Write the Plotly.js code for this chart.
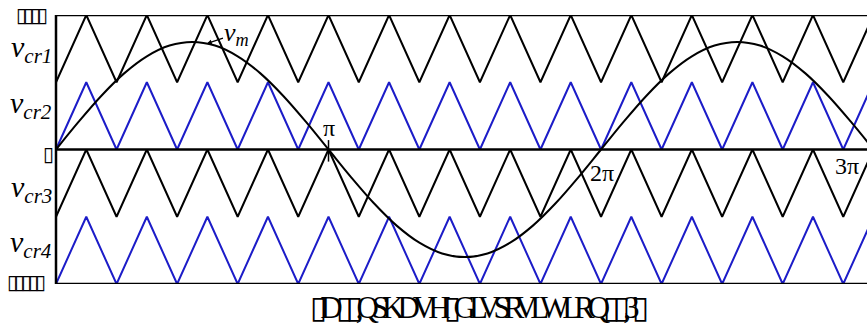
<!DOCTYPE html>
<html>
<head>
<meta charset="utf-8">
<script src="https://cdn.plot.ly/plotly-3.0.1.min.js"></script>
<style>
html,body{margin:0;padding:0;background:#fff;}
#chart{width:867px;height:326px;}
.gtitle{letter-spacing:-7px;}
g.annotation[data-index="4"] text, g.annotation[data-index="5"] text, g.annotation[data-index="6"] text{letter-spacing:-4px;}
</style>
</head>
<body>
<div id="chart"></div>
<script>
// Carrier vertex times, in units of pi/9 (mf = 9, in-phase disposition)
var carrierVertexTimes = [0,1,2,3,4,5,6,7,8,9,10,11,12,13,14,15,16,17,18,19,20,21,22,23,24,25,26,27];
var carrierNames = ["vcr1","vcr2","vcr3","vcr4"];
var carrierLow  = [0.5, 0, -0.5, -1];
var carrierHigh = [1, 0.5, 0, -0.5];
var carrierColors = ["#000000","#1c1cc8","#000000","#1c1cc8"];
var carrierLabels = ["<i>v</i><sub><i>cr1</i></sub>","<i>v</i><sub><i>cr2</i></sub>","<i>v</i><sub><i>cr3</i></sub>","<i>v</i><sub><i>cr4</i></sub>"];
var carrierLabelY = [0.75, 0.33, -0.29, -0.7];

// Modulating wave samples every pi/12 (times in units of pi/12)
var modTimes = [0,1,2,3,4,5,6,7,8,9,10,11,12,13,14,15,16,17,18,19,20,21,22,23,24,25,26,27,28,29,30,31,32,33,34,35,36];
var modValues = [0,0.207,0.4,0.566,0.693,0.773,0.8,0.773,0.693,0.566,0.4,0.207,0,
  -0.207,-0.4,-0.566,-0.693,-0.773,-0.8,-0.773,-0.693,-0.566,-0.4,-0.207,0,
  0.207,0.4,0.566,0.693,0.773,0.8,0.773,0.693,0.566,0.4,0.207,0];

// Angle marks (units of pi)
var piMarks = [1, 2, 3];
var piLabels = ["&#960;", "2&#960;", "3&#960;"];
var xMax = 2.976;

// Garbled tick labels as they appear
var tickLabelText = ["▯▯▯▯", "▯", "▯▯▯▯▯"];
var tickLabelY = [1, 0, -1];
var titleText = "▯D▯▯,QSKDVH▯GLVSRVLWLRQ▯▯,3' ▯";

var traces = [];
for (var c = 0; c < carrierNames.length; c++) {
  var xs = [], ys = [];
  for (var k = 0; k < carrierVertexTimes.length; k++) {
    xs.push(carrierVertexTimes[k] / 9);
    ys.push(k % 2 === 0 ? carrierLow[c] : carrierHigh[c]);
  }
  traces.push({x: xs, y: ys, type: "scatter", mode: "lines", name: carrierNames[c],
    line: {color: carrierColors[c], width: 2}, hoverinfo: "skip"});
}
traces.push({x: modTimes.map(function(t){return t/12;}), y: modValues, type: "scatter", mode: "lines",
  name: "vm", line: {color: "#000", width: 2, shape: "spline"}, hoverinfo: "skip"});

var serif = "Times New Roman, Liberation Serif, Times, serif";
var annotations = [];
for (var c = 0; c < carrierLabels.length; c++) {
  annotations.push({xref: "paper", yref: "y", x: 0, y: carrierLabelY[c], xanchor: "right", yanchor: "middle",
    xshift: -2, text: carrierLabels[c], showarrow: false, font: {family: serif, size: 30, color: "#000"}});
}
for (var t = 0; t < tickLabelText.length; t++) {
  annotations.push({xref: "paper", yref: "y", x: 0, y: tickLabelY[t], xanchor: "right", yanchor: "middle",
    xshift: -2, yshift: t === 1 ? -4 : (t === 2 ? 2 : 0), text: tickLabelText[t], showarrow: false,
    font: {family: "DejaVu Sans", size: 20, color: "#000"}});
}
var piShiftX = [0, 1, -27];
var piShiftY = [22, -23, -16];
for (var p = 0; p < piMarks.length; p++) {
  annotations.push({xref: "paper", yref: "y", x: piMarks[p] / xMax, y: 0, xanchor: "center", yanchor: "middle",
    xshift: piShiftX[p], yshift: piShiftY[p], text: piLabels[p], showarrow: false,
    font: {family: serif, size: 24, color: "#000"}});
}
// v_m label with arrow to the modulating wave
annotations.push({xref: "x", yref: "y", x: 0.554, y: 0.788, ax: 30, ay: -10, text: "<i>v</i><sub><i>m</i></sub>",
  showarrow: true, arrowhead: 2, arrowsize: 0.8, arrowwidth: 1.2, arrowcolor: "#000", standoff: 0,
  font: {family: serif, size: 26, color: "#000"}});

var shapes = [
  {type: "line", xref: "paper", yref: "y", x0: 0, x1: 1, y0: 1, y1: 1, line: {color: "#000", width: 2.5}},
  {type: "line", xref: "paper", yref: "y", x0: 0, x1: 1, y0: 0, y1: 0, line: {color: "#000", width: 2.5}},
  {type: "line", xref: "paper", yref: "y", x0: 0, x1: 1, y0: -1, y1: -1, line: {color: "#000", width: 2.5}},
  {type: "line", xref: "paper", yref: "y", x0: 0, x1: 0, y0: -1, y1: 1, line: {color: "#000", width: 2.5}},
  {type: "line", xref: "x", yref: "y", x0: piMarks[0], x1: piMarks[0], y0: -0.09, y1: 0.07, line: {color: "#000", width: 1.5}}
];

var layout = {
  width: 867, height: 326,
  margin: {l: 56, r: 0, t: 15, b: 42, pad: 0},
  paper_bgcolor: "#fff", plot_bgcolor: "#fff",
  showlegend: false,
  xaxis: {range: [0, xMax], visible: false, fixedrange: true},
  yaxis: {range: [-1, 1], visible: false, fixedrange: true},
  title: {text: titleText, x: 476/867, xanchor: "center", y: 0.058, yref: "container", yanchor: "middle",
    font: {family: serif, size: 31, color: "#000"}},
  annotations: annotations,
  shapes: shapes
};

Plotly.newPlot("chart", traces, layout, {staticPlot: true, displayModeBar: false});
</script>
</body>
</html>
